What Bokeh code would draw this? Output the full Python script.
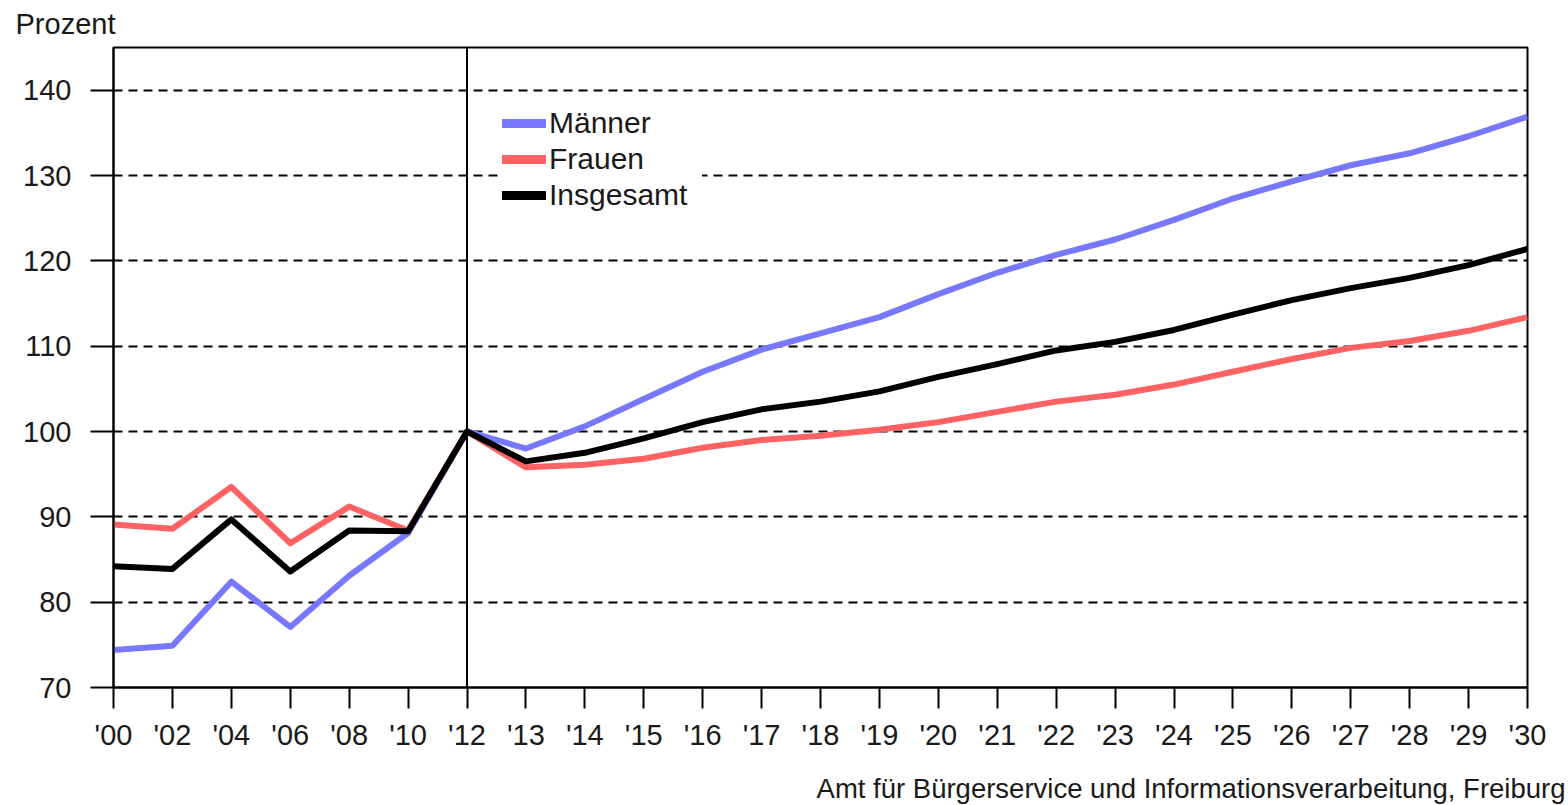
from bokeh.plotting import figure
from bokeh.models import (Range1d, FixedTicker, Span, Legend, LegendItem,
                          ColumnDataSource, Title, Label)
from bokeh.embed import file_html
from bokeh.resources import INLINE

years = ["'00", "'02", "'04", "'06", "'08", "'10", "'12", "'13", "'14", "'15", "'16",
         "'17", "'18", "'19", "'20", "'21", "'22", "'23", "'24", "'25", "'26", "'27",
         "'28", "'29", "'30"]
maenner = [74.4, 74.9, 82.4, 77.1, 83.1, 88.1, 100.0, 98.0, 100.6, 103.8, 107.0,
           109.6, 111.5, 113.4, 116.1, 118.6, 120.7, 122.5, 124.8, 127.3, 129.3,
           131.2, 132.6, 134.6, 136.9]
frauen = [89.1, 88.6, 93.5, 86.9, 91.2, 88.4, 100.0, 95.8, 96.1, 96.8, 98.1,
          99.0, 99.5, 100.2, 101.1, 102.3, 103.5, 104.3, 105.5, 107.0, 108.5,
          109.8, 110.6, 111.8, 113.4]
insgesamt = [84.2, 83.9, 89.7, 83.6, 88.4, 88.3, 100.0, 96.5, 97.5, 99.2, 101.1,
             102.6, 103.5, 104.7, 106.4, 107.9, 109.5, 110.5, 111.9, 113.7, 115.4,
             116.8, 118.0, 119.5, 121.4]
y_ticks = [70, 80, 90, 100, 110, 120, 130, 140]
series_names = ["Männer", "Frauen", "Insgesamt"]
colors = ["#7878ff", "#ff6262", "#000000"]

xi = list(range(len(years)))
src = ColumnDataSource(dict(x=xi, m=maenner, f=frauen, g=insgesamt))

FONT = "Liberation Sans"
TXT = "#1a1a1a"

p = figure(width=1568, height=805, output_backend="svg", toolbar_location=None,
           x_range=Range1d(0, len(years) - 1), y_range=Range1d(70, 145),
           min_border_left=113, min_border_right=41, min_border_top=46,
           min_border_bottom=118)
p.background_fill_color = "white"
p.border_fill_color = "white"
p.outline_line_color = "black"
p.outline_line_width = 2

p.title = Title(text="Prozent", align="left", offset=-98, standoff=13,
                vertical_align="middle",
                text_font=FONT, text_font_size="29px", text_font_style="normal",
                text_color=TXT)
p.add_layout(Label(x=1452, y=-4, x_units="screen", y_units="screen",
                   text="Amt für Bürgerservice und Informationsverarbeitung, Freiburg",
                   text_align="right", text_baseline="alphabetic",
                   text_font=FONT, text_font_size="27.5px", text_color=TXT), "below")

p.xgrid.visible = False
p.ygrid.ticker = FixedTicker(ticks=y_ticks[1:])
p.ygrid.grid_line_color = "black"
p.ygrid.grid_line_dash = "9 6"
p.ygrid.grid_line_width = 2

p.xaxis.ticker = FixedTicker(ticks=xi)
p.xaxis.major_label_overrides = {i: y for i, y in enumerate(years)}
p.yaxis.ticker = FixedTicker(ticks=y_ticks)
for ax in (p.xaxis[0], p.yaxis[0]):
    ax.axis_line_color = "black"
    ax.axis_line_width = 2
    ax.major_tick_line_color = "black"
    ax.major_tick_line_width = 2
    ax.minor_tick_line_color = None
    ax.major_tick_in = 0
    ax.major_label_text_font = FONT
    ax.major_label_text_font_size = "29px"
    ax.major_label_text_color = TXT
p.xaxis.major_tick_out = 21
p.yaxis.major_tick_out = 23
p.xaxis.major_label_standoff = 10
p.yaxis.major_label_standoff = 19

p.add_layout(Span(location=6, dimension="height", line_color="black", line_width=2))

for col, c in zip(["m", "f", "g"], colors):
    p.line("x", col, source=src, line_color=c, line_width=6, line_join="round")

# legend proxies (thicker lines like the reference legend)
proxies = []
for c in colors:
    r = p.line([float("nan")], [float("nan")], line_color=c, line_width=9, line_cap="round")
    proxies.append(r)
legend = Legend(items=[LegendItem(label=n, renderers=[r]) for n, r in zip(series_names, proxies)],
                location=(389, 474), padding=14, margin=0, spacing=0,
                glyph_width=44, glyph_height=36, label_height=36, label_width=153,
                label_standoff=3,
                label_text_font=FONT, label_text_font_size="30px", label_text_color=TXT,
                border_line_color=None, background_fill_color="white",
                background_fill_alpha=1.0)
p.add_layout(legend, "center")

open("out.html", "w").write(file_html(p, INLINE))
